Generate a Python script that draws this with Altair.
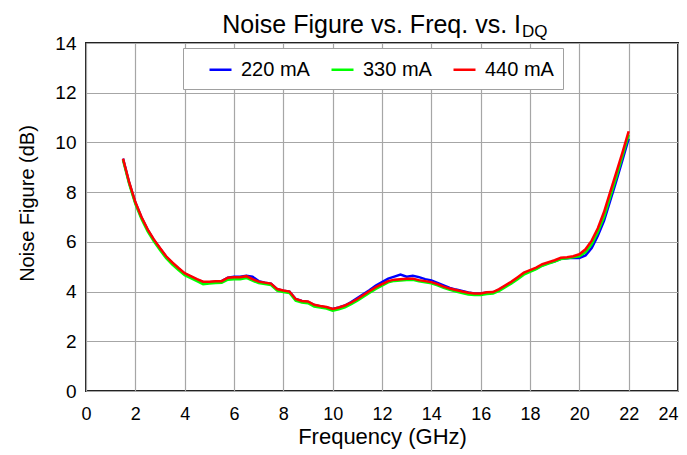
import altair as alt
import pandas as pd

freq = [1.5, 1.75, 2.0, 2.25, 2.5, 2.75, 3.0, 3.25, 3.5, 3.75,
        4.0, 4.25, 4.5, 4.75, 5.0, 5.25, 5.5, 5.75, 6.0, 6.25,
        6.5, 6.75, 7.0, 7.25, 7.5, 7.75, 8.0, 8.25, 8.5, 8.75,
        9.0, 9.25, 9.5, 9.75, 10.0, 10.25, 10.5, 10.75, 11.0, 11.25,
        11.5, 11.75, 12.0, 12.25, 12.5, 12.75, 13.0, 13.25, 13.5, 13.75,
        14.0, 14.25, 14.5, 14.75, 15.0, 15.25, 15.5, 15.75, 16.0, 16.25,
        16.5, 16.75, 17.0, 17.25, 17.5, 17.75, 18.0, 18.25, 18.5, 18.75,
        19.0, 19.25, 19.5, 19.75, 20.0, 20.25, 20.5, 20.75, 21.0, 21.25,
        21.5, 21.75, 22.0]

nf_220 = [9.35, 8.38, 7.58, 6.98, 6.48, 6.08, 5.73, 5.40, 5.15, 4.93,
          4.72, 4.60, 4.48, 4.38, 4.38, 4.40, 4.42, 4.56, 4.60, 4.60,
          4.64, 4.60, 4.42, 4.36, 4.32, 4.10, 4.03, 4.00, 3.70, 3.62,
          3.58, 3.46, 3.40, 3.36, 3.30, 3.36, 3.44, 3.58, 3.74, 3.90,
          4.06, 4.24, 4.38, 4.52, 4.60, 4.68, 4.60, 4.64, 4.58, 4.50,
          4.45, 4.35, 4.25, 4.15, 4.08, 4.02, 3.96, 3.92, 3.92, 3.96,
          3.97, 4.08, 4.22, 4.36, 4.54, 4.72, 4.82, 4.92, 5.06, 5.15,
          5.22, 5.32, 5.34, 5.36, 5.35, 5.45, 5.75, 6.25, 6.85, 7.65,
          8.45, 9.30, 10.15]

nf_330 = [9.30, 8.33, 7.53, 6.92, 6.42, 6.02, 5.67, 5.34, 5.09, 4.87,
          4.66, 4.54, 4.42, 4.30, 4.32, 4.34, 4.35, 4.48, 4.50, 4.50,
          4.55, 4.44, 4.34, 4.30, 4.26, 4.04, 3.98, 3.94, 3.63, 3.56,
          3.53, 3.40, 3.36, 3.32, 3.23, 3.29, 3.37, 3.49, 3.63, 3.79,
          3.95, 4.11, 4.24, 4.37, 4.43, 4.45, 4.47, 4.47, 4.41, 4.37,
          4.33, 4.25, 4.15, 4.07, 4.00, 3.94, 3.88, 3.86, 3.86, 3.90,
          3.92, 4.03, 4.18, 4.33, 4.50, 4.68, 4.79, 4.90, 5.04, 5.13,
          5.21, 5.31, 5.34, 5.38, 5.42, 5.58, 5.90, 6.40, 7.00, 7.80,
          8.60, 9.45, 10.30]

nf_440 = [9.35, 8.40, 7.60, 7.00, 6.50, 6.10, 5.75, 5.42, 5.17, 4.95,
          4.74, 4.62, 4.50, 4.40, 4.40, 4.42, 4.42, 4.56, 4.58, 4.58,
          4.62, 4.50, 4.40, 4.36, 4.32, 4.10, 4.04, 4.00, 3.70, 3.62,
          3.60, 3.47, 3.42, 3.38, 3.30, 3.36, 3.44, 3.56, 3.70, 3.86,
          4.02, 4.18, 4.30, 4.42, 4.48, 4.50, 4.52, 4.52, 4.46, 4.42,
          4.38, 4.30, 4.20, 4.12, 4.06, 4.00, 3.95, 3.92, 3.92, 3.97,
          3.98, 4.10, 4.25, 4.40, 4.58, 4.76, 4.86, 4.96, 5.10, 5.18,
          5.26, 5.36, 5.38, 5.42, 5.50, 5.70, 6.05, 6.55, 7.20, 8.00,
          8.80, 9.60, 10.45]

series = ["220 mA", "330 mA", "440 mA"]
colors = ["#0000ff", "#00ff00", "#ff0000"]
x_ticks = list(range(0, 25, 2))
y_ticks = list(range(0, 15, 2))

rows = []
for name, vals in zip(series, [nf_220, nf_330, nf_440]):
    for f, v in zip(freq, vals):
        rows.append({"freq": f, "nf": v, "series": name})
df = pd.DataFrame(rows)

FONT = "Liberation Sans"

lines = alt.Chart(df).mark_line(strokeWidth=2.5).encode(
    x=alt.X("freq:Q", title="Frequency (GHz)",
            scale=alt.Scale(domain=[0, 24], nice=False),
            axis=alt.Axis(values=x_ticks, format="d", labelPadding=14,
                          labelFontSize=18,
                          labelAlign={"condition": {"test": "datum.value == 24",
                                                    "value": "right"},
                                      "value": "center"},
                          labelFlush=False, titlePadding=3, titleFontSize=22)),
    y=alt.Y("nf:Q", title="Noise Figure (dB)",
            scale=alt.Scale(domain=[0, 14], nice=False),
            axis=alt.Axis(values=y_ticks, format="d", labelPadding=10,
                          labelFlush=False, titlePadding=17, titleY=160)),
    color=alt.Color("series:N", scale=alt.Scale(domain=series, range=colors),
                    legend=alt.Legend(title=None, orient="none", legendX=97,
                                      legendY=5, direction="horizontal",
                                      symbolType="stroke", symbolStrokeWidth=2.5,
                                      symbolSize=484, labelFontSize=20,
                                      labelFont=FONT, labelColor="black",
                                      padding=9, symbolOffset=16, columnPadding=4,
                                      labelOffset=8,
                                      strokeColor="#a0a0a0", fillColor="white")),
    detail="series:N",
)

title_main = alt.Chart(pd.DataFrame({"t": ["Noise Figure vs. Freq. vs. I"]})).mark_text(
    align="right", baseline="alphabetic", fontSize=25, font=FONT, color="black"
).encode(x=alt.value(435), y=alt.value(-10), text="t:N")

title_sub = alt.Chart(pd.DataFrame({"t": ["DQ"]})).mark_text(
    align="left", baseline="alphabetic", fontSize=17, font=FONT, color="black"
).encode(x=alt.value(436), y=alt.value(-6), text="t:N")

chart = alt.layer(lines, title_main, title_sub).properties(
    width=592, height=348,
    padding={"left": 78, "top": 35, "right": 1, "bottom": 64},
    autosize="none",
).configure_view(
    stroke="#222222", strokeWidth=2
).configure_axis(
    grid=True, gridColor="#a6a6a6", gridWidth=1.2, domain=False, ticks=False,
    labelFont=FONT, labelFontSize=19, labelColor="black",
    titleFont=FONT, titleFontSize=20, titleColor="black", titleFontWeight="normal",
)

chart.save("out.html", embed_options={"renderer": "svg", "actions": False})
